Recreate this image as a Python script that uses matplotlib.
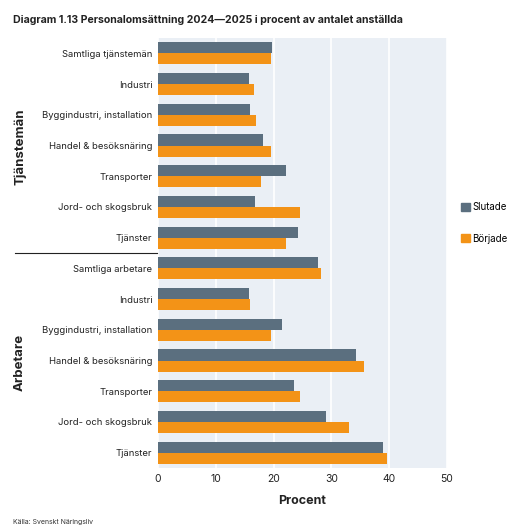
import matplotlib
matplotlib.use("Agg")
import matplotlib.pyplot as plt
from matplotlib.patches import Patch
import numpy as np

plt.rcParams['font.family'] = ['Inter', 'DejaVu Sans']

categories = [
    "Samtliga tjänstemän", "Industri", "Byggindustri, installation",
    "Handel & besöksnäring", "Transporter", "Jord- och skogsbruk", "Tjänster",
    "Samtliga arbetare", "Industri", "Byggindustri, installation",
    "Handel & besöksnäring", "Transporter", "Jord- och skogsbruk", "Tjänster",
]
slutade = [19.7, 15.7, 15.9, 18.2, 22.1, 16.8, 24.3,
           27.7, 15.7, 21.5, 34.2, 23.5, 29.0, 39.0]
borjade = [19.5, 16.6, 16.9, 19.6, 17.9, 24.6, 22.2,
           28.2, 15.9, 19.5, 35.7, 24.6, 33.0, 39.7]
groups = ["Tjänstemän", "Arbetare"]
xticks = [0, 10, 20, 30, 40, 50]

c_slut = "#5b6f7f"
c_borj = "#f39317"
bg = "#eaeff5"

fig = plt.figure(figsize=(5.15, 5.31), dpi=100)
ax = fig.add_axes([158/515, 1-468/531, (447-158)/515, (468-38)/531])
ax.set_facecolor(bg)

y = np.arange(len(categories))
h = 0.36
ax.barh(y - h/2, slutade, height=h, color=c_slut, zorder=3)
ax.barh(y + h/2, borjade, height=h, color=c_borj, zorder=3)

ax.set_ylim(len(categories) - 0.5, -0.5)
ax.set_xlim(0, 50)
ax.set_yticks(y)
ax.set_yticklabels(categories, fontsize=6.8, color="#222222")
ax.set_xticks(xticks)
ax.set_xticklabels([str(t) for t in xticks], fontsize=7.5, color="#222222")
ax.tick_params(length=0, pad=4)
ax.xaxis.grid(True, color="white", linewidth=1.2, zorder=0)
ax.set_axisbelow(True)
for s in ax.spines.values():
    s.set_visible(False)
ax.set_xlabel("Procent", fontsize=9, fontweight="bold", color="#222222", labelpad=8)

# separator line between groups
sep_y = 1 - 252.5/531
fig.add_artist(plt.Line2D([15/515, 157/515], [sep_y, sep_y], color="#222222", linewidth=0.8))

# group labels
fig.text(20/515, 1-147/531, groups[0], rotation=90, fontsize=9.5, fontweight="bold",
         ha="center", va="center", color="#222222")
fig.text(20/515, 1-362/531, groups[1], rotation=90, fontsize=9.5, fontweight="bold",
         ha="center", va="center", color="#222222")

fig.text(13/515, 1-20/531, "Diagram 1.13 Personalomsättning 2024\u20142025 i procent av antalet anställda",
         fontsize=7.6, fontweight="bold", ha="left", va="center", color="#222222")
fig.text(13/515, 1-522/531, "Källa: Svenskt Näringsliv", fontsize=5, ha="left", va="center",
         color="#333333")

handles = [Patch(color=c_slut, label="Slutade"), Patch(color=c_borj, label="Började")]
leg = fig.legend(handles=handles, loc="center left", bbox_to_anchor=(452/515, 1-223/531),
                 frameon=False, fontsize=7, handlelength=0.9, handleheight=0.9,
                 handletextpad=0.3, labelspacing=2.2)

fig.savefig("out.png", dpi=100)
